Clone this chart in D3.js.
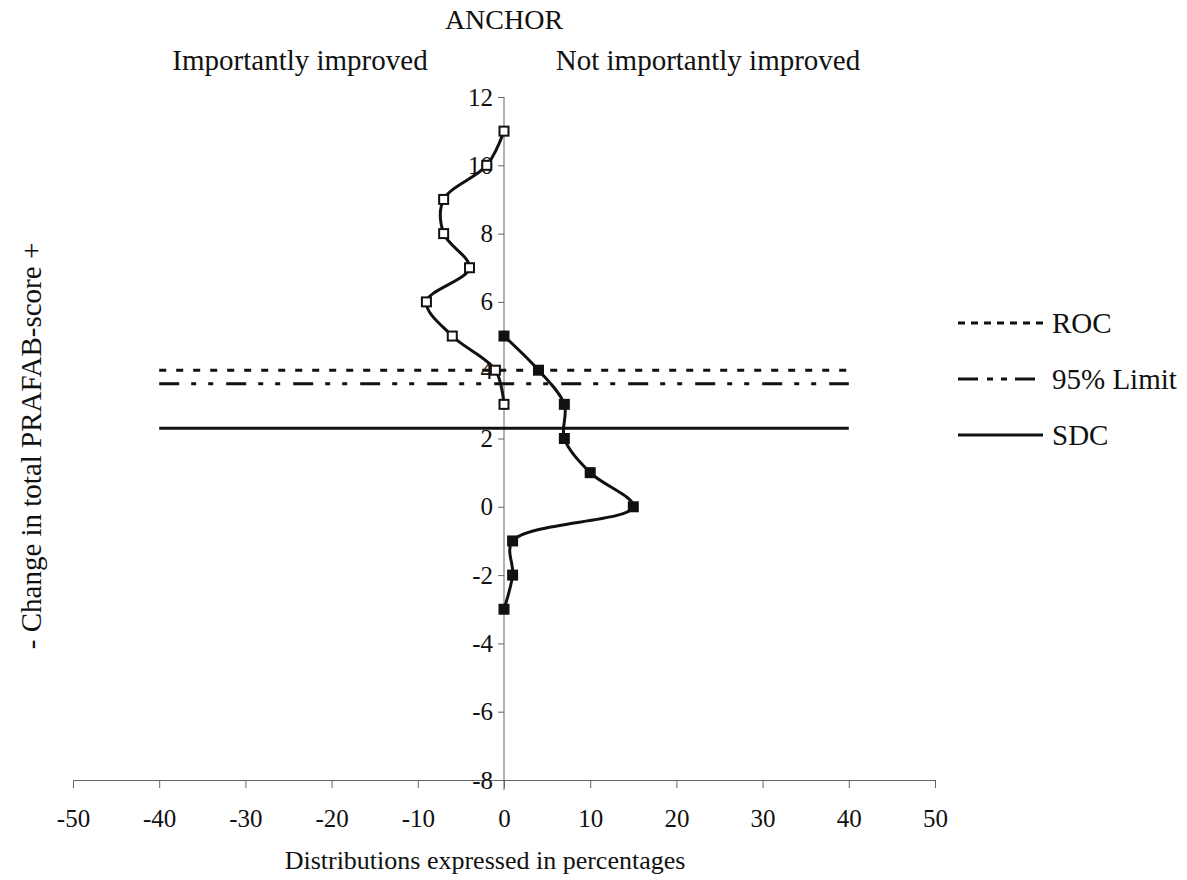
<!DOCTYPE html>
<html>
<head>
<meta charset="utf-8">
<script src="https://cdn.jsdelivr.net/npm/d3@7"></script>
<style>
    body { margin: 0; background: #fff; }
    text { font-family: "Liberation Serif", "Times New Roman", serif; fill: #111; }
</style>
</head>
<body>
<div id="wrapper"></div>
<script>
// change in total PRAFAB-score (y) and percentage of patients (x)
const improvedScores = [11, 10, 9, 8, 7, 6, 5, 4, 3];
const improvedPct = [0, -2, -7, -7, -4, -9, -6, -1, 0];
const notImprovedScores = [5, 4, 3, 2, 1, 0, -1, -2, -3];
const notImprovedPct = [0, 4, 7, 7, 10, 15, 1, 1, 0];

const cutoffNames = ["ROC", "95% Limit", "SDC"];
const cutoffValues = [4, 3.6, 2.3];
const cutoffDash = ["7,10", "20,12,5,12,5,13", null];
const legendDash = ["7,6", "20,9,6,8,6,8", null];

const xTicks = [-50, -40, -30, -20, -10, 0, 10, 20, 30, 40, 50];
const yTicks = [-8, -6, -4, -2, 0, 2, 4, 6, 8, 10, 12];

function build() {
    var dimension = {
        width: 1187,
        height: 880
    }

    const serif = '"Liberation Serif", "Times New Roman", serif';

    const x = d3.scaleLinear().domain([-50, 50]).range([73, 935]);
    const y = d3.scaleLinear().domain([-8, 12]).range([780, 97]);

    const svg = d3.select("#wrapper")
        .append("svg")
        .attr("width", dimension.width)
        .attr("height", dimension.height)

    // x axis sits at y = -8
    const xAxis = svg.append("g")
        .attr("transform", `translate(0,${y(-8)})`)
        .call(d3.axisBottom(x).tickValues(xTicks).tickFormat(d => d).tickSize(8).tickSizeOuter(0))
        .attr("font-family", serif)
        .attr("font-size", 25);
    xAxis.select(".domain").attr("stroke", "#666");
    xAxis.selectAll(".tick line").attr("stroke", "#666");
    xAxis.selectAll(".tick text")
        .attr("y", 47)
        .attr("dy", 0)
        .attr("fill", "#111");

    // y axis sits at x = 0
    const yAxis = svg.append("g")
        .attr("transform", `translate(${x(0)},0)`)
        .call(d3.axisLeft(y).tickValues(yTicks).tickFormat(d => d).tickSize(6).tickSizeOuter(0).tickPadding(5))
        .attr("font-family", serif)
        .attr("font-size", 25);
    yAxis.select(".domain").attr("stroke", "#666")
        .attr("d", `M0,${y(12)}V${y(-8) + 10}`);
    yAxis.selectAll(".tick line").attr("stroke", "#666");
    yAxis.selectAll(".tick text").attr("fill", "#111");

    // cut-off lines
    svg.append("g")
        .selectAll("line")
        .data(cutoffValues)
        .enter()
        .append("line")
        .attr("x1", x(-40))
        .attr("x2", x(40))
        .attr("y1", d => y(d))
        .attr("y2", d => y(d))
        .attr("stroke", "#111")
        .attr("stroke-width", 3)
        .attr("stroke-dasharray", (d, i) => cutoffDash[i]);

    const line = d3.line()
        .x(d => x(d.pct))
        .y(d => y(d.score))
        .curve(d3.curveCatmullRom.alpha(0.5));

    const improved = improvedScores.map((s, i) => ({score: s, pct: improvedPct[i]}));
    const notImproved = notImprovedScores.map((s, i) => ({score: s, pct: notImprovedPct[i]}));

    [[improved, "#fff"], [notImproved, "#111"]].forEach(([data, fill]) => {
        svg.append("path")
            .datum(data)
            .attr("d", line)
            .attr("fill", "none")
            .attr("stroke", "#111")
            .attr("stroke-width", 3);

        svg.append("g")
            .selectAll("rect")
            .data(data)
            .enter()
            .append("rect")
            .attr("x", d => x(d.pct) - 4.5)
            .attr("y", d => y(d.score) - 4.5)
            .attr("width", 9)
            .attr("height", 9)
            .attr("fill", fill)
            .attr("stroke", "#111")
            .attr("stroke-width", 2);
    });

    // legend
    const legend = svg.append("g")
        .selectAll("g")
        .data(cutoffNames)
        .enter()
        .append("g")
        .attr("transform", (d, i) => `translate(958,${323 + i * 56})`);
    legend.append("line")
        .attr("x1", 0)
        .attr("x2", 85)
        .attr("stroke", "#111")
        .attr("stroke-width", 3)
        .attr("stroke-dasharray", (d, i) => legendDash[i]);
    legend.append("text")
        .attr("x", 94)
        .attr("y", 10)
        .style("font-size", "29px")
        .text(d => d);

    // titles
    svg.append("text")
        .attr("x", x(0))
        .attr("y", 29)
        .style("text-anchor", "middle")
        .style("font-size", "28px")
        .text("ANCHOR");
    svg.append("text")
        .attr("x", 300)
        .attr("y", 70)
        .style("text-anchor", "middle")
        .style("font-size", "29px")
        .text("Importantly improved");
    svg.append("text")
        .attr("x", 708)
        .attr("y", 70)
        .style("text-anchor", "middle")
        .style("font-size", "29px")
        .text("Not importantly improved");
    svg.append("text")
        .attr("x", 485)
        .attr("y", 869)
        .style("text-anchor", "middle")
        .style("font-size", "26px")
        .text("Distributions expressed in percentages");
    svg.append("text")
        .attr("transform", "translate(41,446) rotate(-90)")
        .style("text-anchor", "middle")
        .style("font-size", "29px")
        .text("-  Change in total PRAFAB-score  +");
}

build();
</script>
</body>
</html>
